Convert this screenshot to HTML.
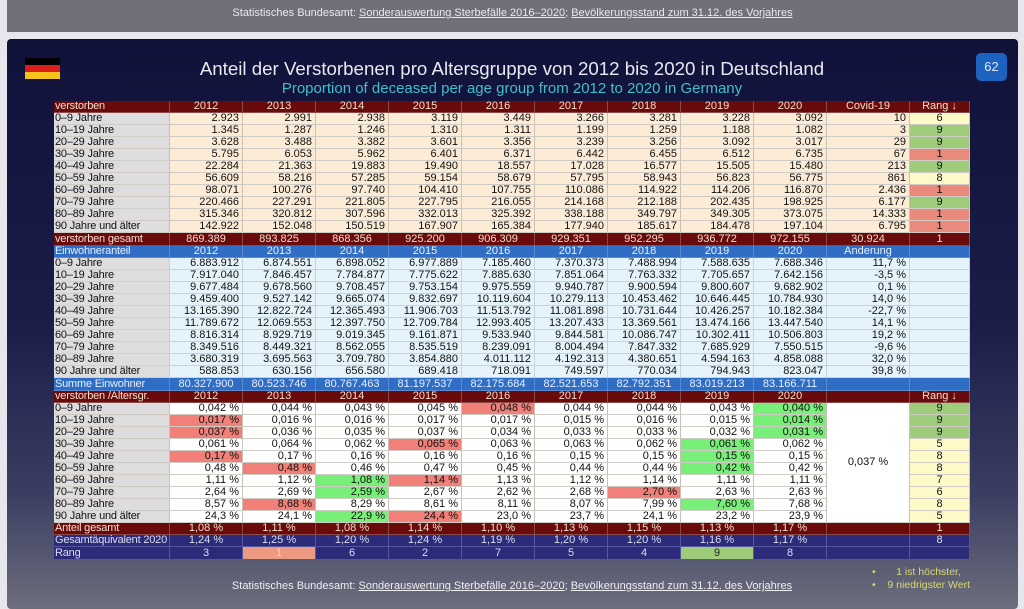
<!DOCTYPE html>
<html><head><meta charset="utf-8"><style>
*{margin:0;padding:0;box-sizing:border-box}
body{width:1024px;height:606px;background:#e6e6ec;position:relative;overflow:hidden;font-family:"Liberation Sans",Arial,sans-serif}
#top{position:absolute;left:7px;top:0;width:1011px;height:32px;background:#707079;color:#e8e8ee;font-size:11px;text-align:center;line-height:26px}
#top u,#foot u{text-decoration:underline}
#panel{position:absolute;left:7px;top:39px;width:1011px;height:570px;border-radius:4px;background:linear-gradient(#10123a 0%,#1a1d48 50%,#3b3e62 80%,#6d6e7c 100%)}
#flag{position:absolute;left:25px;top:58px;width:35px;height:21px}
#flag div{height:7px}
#title{position:absolute;left:0;width:1024px;top:58px;text-align:center;color:#e8e8f0;font-size:18.7px}
#sub{position:absolute;left:0;width:1024px;top:80px;text-align:center;color:#3fbfcf;font-size:15px}
#badge{position:absolute;left:976px;top:53px;width:31px;height:28px;border-radius:5px;background:#1e62c0;color:#dde8ff;font-size:13px;text-align:center;line-height:28px}
table{position:absolute;left:54px;top:101px;border-collapse:separate;border-spacing:0;table-layout:fixed;width:916px;font-size:11px}
td{height:12px;line-height:11px;padding:0 3px;border-right:1px solid #c9c2b8;border-bottom:1px solid #d0cbc4;text-align:right;white-space:nowrap;overflow:hidden;color:#111}
tr.t td{height:13px;line-height:12px}
td:first-child{text-align:left;background:#dddddd;padding:0 1px;letter-spacing:-0.2px}
.h td{background:#6a0b0b;color:#f1dccf;text-align:center;border-color:#8a4a4a}
.h td:first-child{background:#6a0b0b;text-align:left}
.c td{background:#fcecd6}
.c td:first-child{background:#dddddd}
.lb td{background:#e5f4fb;border-color:#c4d4dc}
.lb td:first-child{background:#dddddd}
.b td{background:#2f6ec4;color:#e6efff;text-align:center;border-color:#5a8ad0}
.b td:first-child{background:#2f6ec4;text-align:left}
.w td{background:#fff}
.w td:first-child{background:#dddddd}
.n td{background:#2b2b7a;color:#dcdcf0;text-align:center;border-color:#5555a0}
.n td:first-child{background:#2b2b7a;text-align:left}
td.r{background:#f08078!important}
td.g{background:#78ef78!important}
td.rg{background:#9fcc7a!important;text-align:center}
td.ry{background:#fdfac8!important;text-align:center}
td.rr{background:#ea8a7c!important;text-align:center}
td.cv{background:#fff!important;text-align:center;vertical-align:middle}
td.sal{background:#ee9a80!important}
td.ng{background:#9fcc7a!important;color:#222!important}
#foot{position:absolute;left:0;width:1024px;top:580px;text-align:center;color:#eeeef2;font-size:11px}
#leg{position:absolute;left:872px;top:566px;color:#d8d870;font-size:10.5px;line-height:13px}
</style></head><body>
<div id="top">Statistisches Bundesamt: <u>Sonderauswertung Sterbefälle 2016–2020</u>; <u>Bevölkerungsstand zum 31.12. des Vorjahres</u></div>
<div id="panel"></div>
<div id="flag"><div style="background:#000"></div><div style="background:#dd1c1c"></div><div style="background:#f6c21c"></div></div>
<div id="title">Anteil der Verstorbenen pro Altersgruppe von 2012 bis 2020 in Deutschland</div>
<div id="sub">Proportion of deceased per age group from 2012 to 2020 in Germany</div>
<div id="badge">62</div>
<table>
<colgroup><col style="width:116px"><col style="width:73px"><col style="width:73px"><col style="width:73px"><col style="width:73px"><col style="width:73px"><col style="width:73px"><col style="width:73px"><col style="width:73px"><col style="width:73px"><col style="width:83px"><col style="width:60px"></colgroup>
<tr class="h"><td>verstorben</td><td>2012</td><td>2013</td><td>2014</td><td>2015</td><td>2016</td><td>2017</td><td>2018</td><td>2019</td><td>2020</td><td>Covid-19</td><td>Rang ↓</td></tr>
<tr class="c"><td>0–9 Jahre</td><td>2.923</td><td>2.991</td><td>2.938</td><td>3.119</td><td>3.449</td><td>3.266</td><td>3.281</td><td>3.228</td><td>3.092</td><td>10</td><td class="ry">6</td></tr>
<tr class="c"><td>10–19 Jahre</td><td>1.345</td><td>1.287</td><td>1.246</td><td>1.310</td><td>1.311</td><td>1.199</td><td>1.259</td><td>1.188</td><td>1.082</td><td>3</td><td class="rg">9</td></tr>
<tr class="c"><td>20–29 Jahre</td><td>3.628</td><td>3.488</td><td>3.382</td><td>3.601</td><td>3.356</td><td>3.239</td><td>3.256</td><td>3.092</td><td>3.017</td><td>29</td><td class="rg">9</td></tr>
<tr class="c"><td>30–39 Jahre</td><td>5.795</td><td>6.053</td><td>5.962</td><td>6.401</td><td>6.371</td><td>6.442</td><td>6.455</td><td>6.512</td><td>6.735</td><td>67</td><td class="rr">1</td></tr>
<tr class="c"><td>40–49 Jahre</td><td>22.284</td><td>21.363</td><td>19.883</td><td>19.490</td><td>18.557</td><td>17.028</td><td>16.577</td><td>15.505</td><td>15.480</td><td>213</td><td class="rg">9</td></tr>
<tr class="c"><td>50–59 Jahre</td><td>56.609</td><td>58.216</td><td>57.285</td><td>59.154</td><td>58.679</td><td>57.795</td><td>58.943</td><td>56.823</td><td>56.775</td><td>861</td><td class="ry">8</td></tr>
<tr class="c"><td>60–69 Jahre</td><td>98.071</td><td>100.276</td><td>97.740</td><td>104.410</td><td>107.755</td><td>110.086</td><td>114.922</td><td>114.206</td><td>116.870</td><td>2.436</td><td class="rr">1</td></tr>
<tr class="c"><td>70–79 Jahre</td><td>220.466</td><td>227.291</td><td>221.805</td><td>227.795</td><td>216.055</td><td>214.168</td><td>212.188</td><td>202.435</td><td>198.925</td><td>6.177</td><td class="rg">9</td></tr>
<tr class="c"><td>80–89 Jahre</td><td>315.346</td><td>320.812</td><td>307.596</td><td>332.013</td><td>325.392</td><td>338.188</td><td>349.797</td><td>349.305</td><td>373.075</td><td>14.333</td><td class="rr">1</td></tr>
<tr class="c"><td>90 Jahre und älter</td><td>142.922</td><td>152.048</td><td>150.519</td><td>167.907</td><td>165.384</td><td>177.940</td><td>185.617</td><td>184.478</td><td>197.104</td><td>6.795</td><td class="rr">1</td></tr>
<tr class="h t"><td>verstorben gesamt</td><td>869.389</td><td>893.825</td><td>868.356</td><td>925.200</td><td>906.309</td><td>929.351</td><td>952.295</td><td>936.772</td><td>972.155</td><td>30.924</td><td>1</td></tr>
<tr class="b"><td>Einwohneranteil</td><td>2012</td><td>2013</td><td>2014</td><td>2015</td><td>2016</td><td>2017</td><td>2018</td><td>2019</td><td>2020</td><td>Änderung</td><td></td></tr>
<tr class="lb"><td>0–9 Jahre</td><td>6.883.912</td><td>6.874.551</td><td>6.898.052</td><td>6.977.889</td><td>7.185.460</td><td>7.370.373</td><td>7.488.994</td><td>7.588.635</td><td>7.688.346</td><td>11,7 %</td><td></td></tr>
<tr class="lb"><td>10–19 Jahre</td><td>7.917.040</td><td>7.846.457</td><td>7.784.877</td><td>7.775.622</td><td>7.885.630</td><td>7.851.064</td><td>7.763.332</td><td>7.705.657</td><td>7.642.156</td><td>-3,5 %</td><td></td></tr>
<tr class="lb"><td>20–29 Jahre</td><td>9.677.484</td><td>9.678.560</td><td>9.708.457</td><td>9.753.154</td><td>9.975.559</td><td>9.940.787</td><td>9.900.594</td><td>9.800.607</td><td>9.682.902</td><td>0,1 %</td><td></td></tr>
<tr class="lb"><td>30–39 Jahre</td><td>9.459.400</td><td>9.527.142</td><td>9.665.074</td><td>9.832.697</td><td>10.119.604</td><td>10.279.113</td><td>10.453.462</td><td>10.646.445</td><td>10.784.930</td><td>14,0 %</td><td></td></tr>
<tr class="lb"><td>40–49 Jahre</td><td>13.165.390</td><td>12.822.724</td><td>12.365.493</td><td>11.906.703</td><td>11.513.792</td><td>11.081.898</td><td>10.731.644</td><td>10.426.257</td><td>10.182.384</td><td>-22,7 %</td><td></td></tr>
<tr class="lb"><td>50–59 Jahre</td><td>11.789.672</td><td>12.069.553</td><td>12.397.750</td><td>12.709.784</td><td>12.993.405</td><td>13.207.433</td><td>13.369.561</td><td>13.474.166</td><td>13.447.540</td><td>14,1 %</td><td></td></tr>
<tr class="lb"><td>60–69 Jahre</td><td>8.816.314</td><td>8.929.719</td><td>9.019.345</td><td>9.161.871</td><td>9.533.940</td><td>9.844.581</td><td>10.086.747</td><td>10.302.411</td><td>10.506.803</td><td>19,2 %</td><td></td></tr>
<tr class="lb"><td>70–79 Jahre</td><td>8.349.516</td><td>8.449.321</td><td>8.562.055</td><td>8.535.519</td><td>8.239.091</td><td>8.004.494</td><td>7.847.332</td><td>7.685.929</td><td>7.550.515</td><td>-9,6 %</td><td></td></tr>
<tr class="lb"><td>80–89 Jahre</td><td>3.680.319</td><td>3.695.563</td><td>3.709.780</td><td>3.854.880</td><td>4.011.112</td><td>4.192.313</td><td>4.380.651</td><td>4.594.163</td><td>4.858.088</td><td>32,0 %</td><td></td></tr>
<tr class="lb"><td>90 Jahre und älter</td><td>588.853</td><td>630.156</td><td>656.580</td><td>689.418</td><td>718.091</td><td>749.597</td><td>770.034</td><td>794.943</td><td>823.047</td><td>39,8 %</td><td></td></tr>
<tr class="b t"><td>Summe Einwohner</td><td>80.327.900</td><td>80.523.746</td><td>80.767.463</td><td>81.197.537</td><td>82.175.684</td><td>82.521.653</td><td>82.792.351</td><td>83.019.213</td><td>83.166.711</td><td></td><td></td></tr>
<tr class="h"><td>verstorben /Altersgr.</td><td>2012</td><td>2013</td><td>2014</td><td>2015</td><td>2016</td><td>2017</td><td>2018</td><td>2019</td><td>2020</td><td></td><td>Rang ↓</td></tr>
<tr class="w"><td>0–9 Jahre</td><td>0,042 %</td><td>0,044 %</td><td>0,043 %</td><td>0,045 %</td><td class="r">0,048 %</td><td>0,044 %</td><td>0,044 %</td><td>0,043 %</td><td class="g">0,040 %</td><td class="cv" rowspan="10">0,037 %</td><td class="rg">9</td></tr>
<tr class="w"><td>10–19 Jahre</td><td class="r">0,017 %</td><td>0,016 %</td><td>0,016 %</td><td>0,017 %</td><td>0,017 %</td><td>0,015 %</td><td>0,016 %</td><td>0,015 %</td><td class="g">0,014 %</td><td class="rg">9</td></tr>
<tr class="w"><td>20–29 Jahre</td><td class="r">0,037 %</td><td>0,036 %</td><td>0,035 %</td><td>0,037 %</td><td>0,034 %</td><td>0,033 %</td><td>0,033 %</td><td>0,032 %</td><td class="g">0,031 %</td><td class="rg">9</td></tr>
<tr class="w"><td>30–39 Jahre</td><td>0,061 %</td><td>0,064 %</td><td>0,062 %</td><td class="r">0,065 %</td><td>0,063 %</td><td>0,063 %</td><td>0,062 %</td><td class="g">0,061 %</td><td>0,062 %</td><td class="ry">5</td></tr>
<tr class="w"><td>40–49 Jahre</td><td class="r">0,17 %</td><td>0,17 %</td><td>0,16 %</td><td>0,16 %</td><td>0,16 %</td><td>0,15 %</td><td>0,15 %</td><td class="g">0,15 %</td><td>0,15 %</td><td class="ry">8</td></tr>
<tr class="w"><td>50–59 Jahre</td><td>0,48 %</td><td class="r">0,48 %</td><td>0,46 %</td><td>0,47 %</td><td>0,45 %</td><td>0,44 %</td><td>0,44 %</td><td class="g">0,42 %</td><td>0,42 %</td><td class="ry">8</td></tr>
<tr class="w"><td>60–69 Jahre</td><td>1,11 %</td><td>1,12 %</td><td class="g">1,08 %</td><td class="r">1,14 %</td><td>1,13 %</td><td>1,12 %</td><td>1,14 %</td><td>1,11 %</td><td>1,11 %</td><td class="ry">7</td></tr>
<tr class="w"><td>70–79 Jahre</td><td>2,64 %</td><td>2,69 %</td><td class="g">2,59 %</td><td>2,67 %</td><td>2,62 %</td><td>2,68 %</td><td class="r">2,70 %</td><td>2,63 %</td><td>2,63 %</td><td class="ry">6</td></tr>
<tr class="w"><td>80–89 Jahre</td><td>8,57 %</td><td class="r">8,68 %</td><td>8,29 %</td><td>8,61 %</td><td>8,11 %</td><td>8,07 %</td><td>7,99 %</td><td class="g">7,60 %</td><td>7,68 %</td><td class="ry">8</td></tr>
<tr class="w"><td>90 Jahre und älter</td><td>24,3 %</td><td>24,1 %</td><td class="g">22,9 %</td><td class="r">24,4 %</td><td>23,0 %</td><td>23,7 %</td><td>24,1 %</td><td>23,2 %</td><td>23,9 %</td><td class="ry">5</td></tr>
<tr class="h"><td>Anteil gesamt</td><td>1,08 %</td><td>1,11 %</td><td>1,08 %</td><td>1,14 %</td><td>1,10 %</td><td>1,13 %</td><td>1,15 %</td><td>1,13 %</td><td>1,17 %</td><td></td><td>1</td></tr>
<tr class="n"><td>Gesamtäquivalent 2020</td><td>1,24 %</td><td>1,25 %</td><td>1,20 %</td><td>1,24 %</td><td>1,19 %</td><td>1,20 %</td><td>1,20 %</td><td>1,16 %</td><td>1,17 %</td><td></td><td>8</td></tr>
<tr class="n t"><td>Rang</td><td>3</td><td class="sal">1</td><td>6</td><td>2</td><td>7</td><td>5</td><td>4</td><td class="ng">9</td><td>8</td><td></td><td></td></tr>
</table>
<div id="foot">Statistisches Bundesamt: <u>Sonderauswertung Sterbefälle 2016–2020</u>; <u>Bevölkerungsstand zum 31.12. des Vorjahres</u></div>
<div id="leg">•&nbsp;&nbsp;&nbsp;&nbsp;&nbsp;&nbsp;&nbsp;1 ist höchster,<br>•&nbsp;&nbsp;&nbsp;&nbsp;9 niedrigster Wert</div>
</body></html>
